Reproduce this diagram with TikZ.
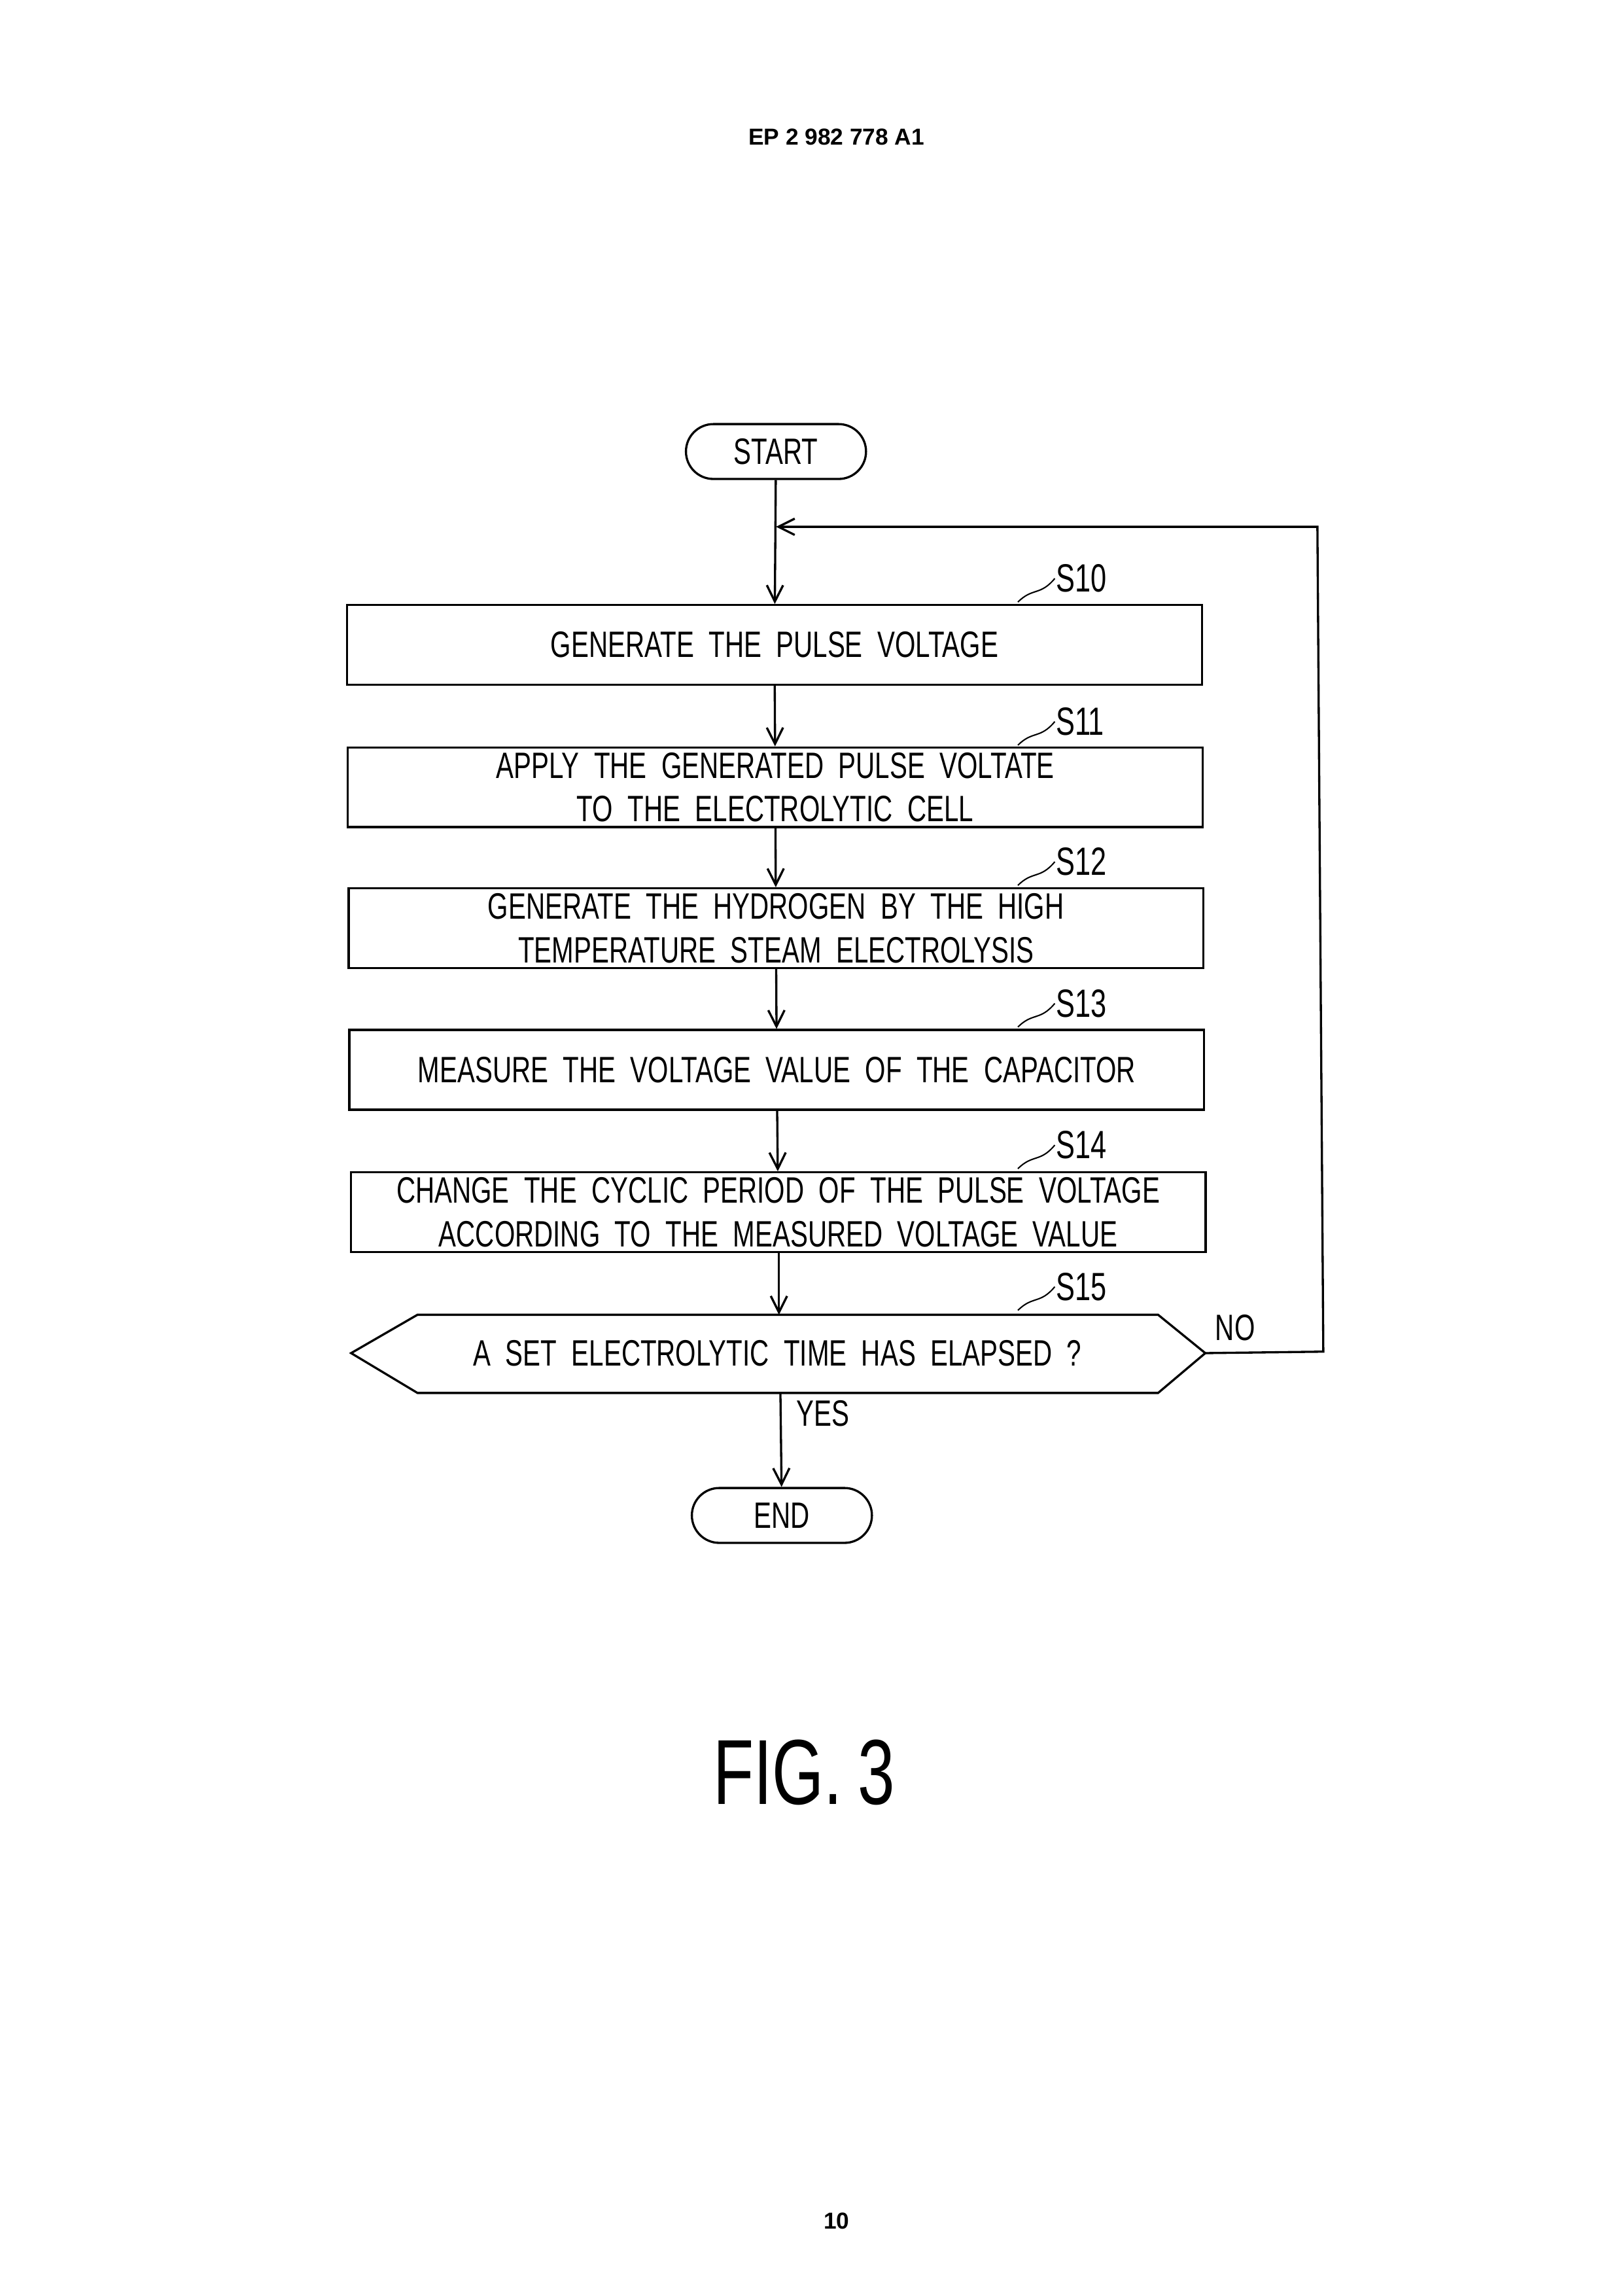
\documentclass[tikz,border=0pt]{standalone}
\usepackage{fontspec}
\setmainfont{Liberation Sans}
\newfontfamily\cond[FakeStretch=0.72]{Liberation Sans}
\usetikzlibrary{arrows.meta,shapes.misc}
\begin{document}
\begin{tikzpicture}[x=0.01909cm,y=-0.01909cm,line width=0.8pt,
  box/.style={draw,minimum width=11.06cm,minimum height=1.03cm,inner sep=0pt,align=center,font=\cond\fontsize{13.5}{16}\selectfont},
  term/.style={draw,rounded rectangle,minimum width=2.33cm,minimum height=0.71cm,inner sep=0pt,font=\cond\fontsize{13.5}{16}\selectfont},
  arr/.style={-{Straight Barb[length=6pt,width=6pt]}},
  lbl/.style={font=\cond\fontsize{14.5}{16}\selectfont,anchor=west,inner sep=0pt},
  sq/.style={line width=0.5pt}]
\useasboundingbox (0,0) rectangle (1100,1556);
\node[font=\bfseries\fontsize{8.5}{10}\selectfont] (hdr) at (567,93) {EP 2 982 778 A1};
\node[term] (start) at (526,306) {START};
\node[box] (s10) at (525,437) {GENERATE\ \ THE\ \ PULSE\ \ VOLTAGE};
\node[box] (s11) at (525.5,533.5) {APPLY\ \ THE\ \ GENERATED\ \ PULSE\ \ VOLTATE\\TO\ \ THE\ \ ELECTROLYTIC\ \ CELL};
\node[box] (s12) at (526,629) {GENERATE\ \ THE\ \ HYDROGEN\ \ BY\ \ THE\ \ HIGH\\TEMPERATURE\ \ STEAM\ \ ELECTROLYSIS};
\node[box] (s13) at (526.5,725) {MEASURE\ \ THE\ \ VOLTAGE\ \ VALUE\ \ OF\ \ THE\ \ CAPACITOR};
\node[box] (s14) at (527.5,821.5) {CHANGE\ \ THE\ \ CYCLIC\ \ PERIOD\ \ OF\ \ THE\ \ PULSE\ \ VOLTAGE\\ACCORDING\ \ TO\ \ THE\ \ MEASURED\ \ VOLTAGE\ \ VALUE};
\coordinate (hl) at (238,917); \coordinate (htl) at (283,891); \coordinate (htr) at (785,891);
\coordinate (hr) at (817,917); \coordinate (hbr) at (785,944); \coordinate (hbl) at (283,944);
\coordinate (htop) at (528,891); \coordinate (hbot) at (529,944);
\draw (hl) -- (htl) -- (htr) -- (hr) -- (hbr) -- (hbl) -- cycle;
\node[font=\cond\fontsize{13.5}{16}\selectfont] (s15) at (527,917) {A\ \ SET\ \ ELECTROLYTIC\ \ TIME\ \ HAS\ \ ELAPSED\ \ ?};
\node[term] (end) at (530,1027) {END};
\coordinate (loopa) at (897,916); \coordinate (loopb) at (893,357); \coordinate (join) at (526,357);
\draw[arr] (start) -- (s10);
\draw[arr] (loopa -| hr) (hr) -- (loopa) -- (loopb) -- (join);
\draw[arr] (s10) -- (s11);
\draw[arr] (s11) -- (s12);
\draw[arr] (s12) -- (s13);
\draw[arr] (s13) -- (s14);
\draw[arr] (s14.south -| htop) -- (htop);
\draw[arr] (hbot) -- (end);
\node[font=\cond\fontsize{13.5}{16}\selectfont,anchor=west] (yes) at (533,958) {YES};
\node[font=\cond\fontsize{13.5}{16}\selectfont,anchor=west] (no) at (817,900) {NO};
\foreach \n/\y in {10/392,11/489,12/584,13/680,14/776,15/872}{
  \node[lbl] (l\n) at (715,\y) {S\n};
  \draw[sq] (690,\y+16) .. controls (700,\y+6) and (705,\y+12) .. (l\n.west);
}
\node[font=\cond\fontsize{34}{40}\selectfont] (fig) at (545,1201) {FIG.\,3};
\node[font=\bfseries\fontsize{8.5}{10}\selectfont] (pg) at (567,1505) {10};
\end{tikzpicture}
\end{document}
